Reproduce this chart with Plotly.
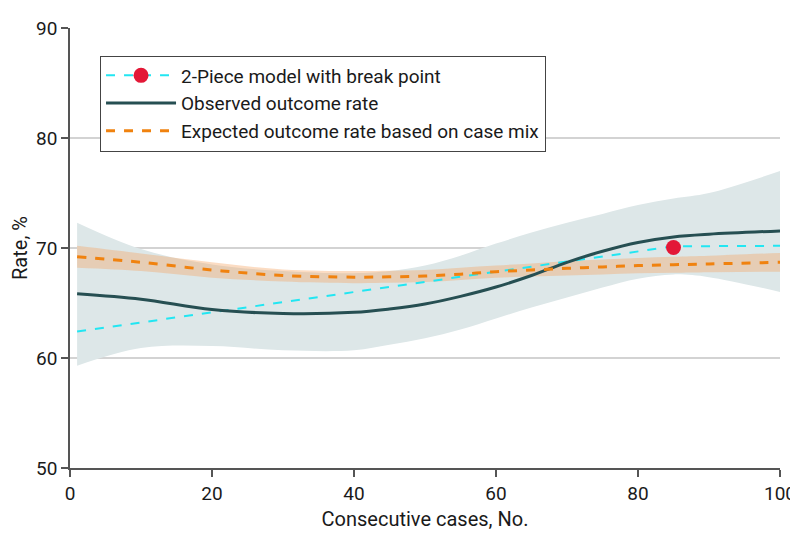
import plotly.graph_objects as go

# ---- data ----
cases = [1, 10, 20, 30, 40, 45, 50, 55, 60, 65, 70, 75, 80, 85, 90, 100]
observed = [65.85, 65.35, 64.4, 64.05, 64.15, 64.45, 64.9, 65.6, 66.45, 67.5, 68.7, 69.7, 70.5, 71.0, 71.25, 71.55]
observed_upper = [72.3, 69.9, 68.5, 67.9, 67.7, 67.9, 68.4, 69.3, 70.4, 71.4, 72.3, 73.1, 73.9, 74.5, 75.0, 77.0]
observed_lower = [59.3, 60.9, 61.1, 60.7, 60.7, 61.2, 61.8, 62.6, 63.6, 64.6, 65.5, 66.4, 67.2, 67.6, 67.35, 66.0]
expected = [69.2, 68.7, 68.0, 67.5, 67.35, 67.38, 67.45, 67.62, 67.85, 68.0, 68.15, 68.28, 68.4, 68.48, 68.55, 68.7]
expected_upper = [70.2, 69.5, 68.7, 68.05, 67.9, 67.93, 68.0, 68.2, 68.4, 68.6, 68.8, 68.95, 69.1, 69.2, 69.3, 69.55]
expected_lower = [68.2, 67.9, 67.3, 66.95, 66.8, 66.83, 66.9, 67.1, 67.3, 67.4, 67.5, 67.6, 67.7, 67.75, 67.8, 67.85]
piece_x = [1, 85, 100]
piece_y = [62.4, 70.15, 70.2]
break_x = [85]
break_y = [70.05]
x_ticks = [0, 20, 40, 60, 80, 100]
y_ticks = [50, 60, 70, 80, 90]

FONT = "Roboto, Lato, sans-serif"

fig = go.Figure()

fig.add_trace(go.Scatter(x=cases, y=observed_lower, mode="lines", line=dict(width=0, shape="spline"),
                         showlegend=False, hoverinfo="skip"))
fig.add_trace(go.Scatter(x=cases, y=observed_upper, mode="lines", line=dict(width=0, shape="spline"),
                         fill="tonexty", fillcolor="#dde7e8", showlegend=False, hoverinfo="skip"))
fig.add_trace(go.Scatter(x=cases, y=expected_lower, mode="lines", line=dict(width=0, shape="spline"),
                         showlegend=False, hoverinfo="skip"))
fig.add_trace(go.Scatter(x=cases, y=expected_upper, mode="lines", line=dict(width=0, shape="spline"),
                         fill="tonexty", fillcolor="rgba(244,164,96,0.38)", showlegend=False, hoverinfo="skip"))

fig.add_trace(go.Scatter(x=piece_x, y=piece_y, mode="lines",
                         line=dict(color="#22e6f2", width=2, dash="dash"), showlegend=False))
fig.add_trace(go.Scatter(x=cases, y=observed, mode="lines",
                         line=dict(color="#264f52", width=3, shape="spline"), showlegend=False))
fig.add_trace(go.Scatter(x=cases, y=expected, mode="lines",
                         line=dict(color="#f0820f", width=3, dash="dash", shape="spline"), showlegend=False))
fig.add_trace(go.Scatter(x=break_x, y=break_y, mode="markers",
                         marker=dict(color="#e31837", size=15), showlegend=False))

fig.add_trace(go.Scatter(x=[None], y=[None], mode="lines+markers", name="2-Piece model with break point",
                         line=dict(color="#22e6f2", width=2, dash="dash"),
                         marker=dict(color="#e31837", size=15)))
fig.add_trace(go.Scatter(x=[None], y=[None], mode="lines", name="Observed outcome rate",
                         line=dict(color="#264f52", width=3)))
fig.add_trace(go.Scatter(x=[None], y=[None], mode="lines", name="Expected outcome rate based on case mix",
                         line=dict(color="#f0820f", width=3, dash="dash")))

fig.update_layout(
    width=790, height=537,
    margin=dict(l=62, r=18, t=20, b=77),
    plot_bgcolor="white", paper_bgcolor="white",
    font=dict(family=FONT, size=18, color="#1a1a1a"),
    legend=dict(x=0.0423, y=0.9375, xanchor="left", yanchor="top", traceorder="normal",
                bordercolor="#444", borderwidth=1, bgcolor="white", itemwidth=70,
                font=dict(size=19), tracegroupgap=0),
    xaxis=dict(range=[0, 100], tickvals=x_ticks, showgrid=False, zeroline=False, automargin=False,
               showline=True, linecolor="#555", linewidth=1.5,
               ticks="outside", ticklen=7, tickcolor="#555", tickwidth=1.5,
               tickfont=dict(size=19),
               title=dict(text="Consecutive cases, No.", standoff=8, font=dict(size=20))),
    yaxis=dict(range=[50, 90], tickvals=y_ticks, showgrid=True, gridcolor="#d3d3d3", gridwidth=1.5,
               zeroline=False, showline=True, linecolor="#555", linewidth=1.5, automargin=False,
               ticks="outside", ticklen=7, tickcolor="#555", tickwidth=1.5,
               tickfont=dict(size=19),
               title=dict(text="Rate, %", standoff=10, font=dict(size=20))),
)

fig.write_html("out.html")
